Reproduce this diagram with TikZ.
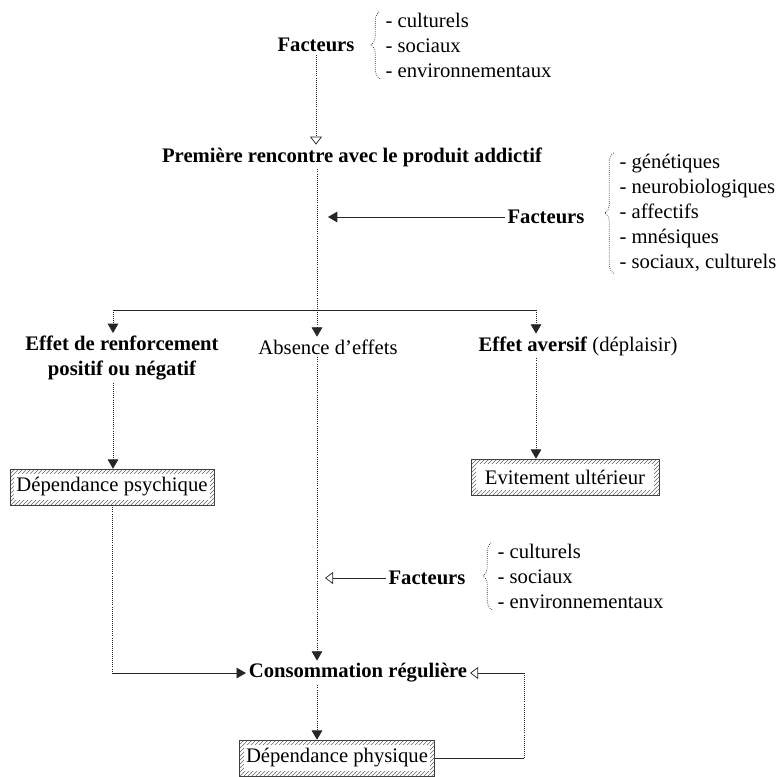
\documentclass[tikz,border=0pt]{standalone}
\usepackage{fontspec}
\setmainfont{Liberation Serif}
\usetikzlibrary{arrows.meta,patterns,decorations.pathreplacing}
\newcommand\diafont{\fontsize{15.5}{18.75}\selectfont}
\tikzset{
  head/.style={font=\diafont\bfseries, inner sep=2pt},
  txt/.style={font=\diafont, inner sep=2pt},
  lst/.style={font=\diafont, align=left, anchor=west, inner sep=1pt},
  vline/.style={densely dotted, draw=black!85, line width=0.55pt},
  hline/.style={draw=black!85, line width=0.55pt},
  tip/.style={-{Triangle[width=8pt,length=7pt]}},
  opentip/.style={-{Triangle[open,width=9pt,length=6pt]}},
  brc/.style={decorate, decoration={brace,amplitude=7pt}, densely dotted, draw=black!85, line width=0.55pt},
  hatchbox/.style={font=\diafont, draw=black!75, pattern=north east lines, pattern color=black!60,
    minimum height=27pt, inner xsep=5pt,
    path picture={\fill[white] ([shift={(3.5pt,3.5pt)}]path picture bounding box.south west)
      rectangle ([shift={(-3.5pt,-3.5pt)}]path picture bounding box.north east);}}
}
\begin{document}
\begin{tikzpicture}[x=0.75pt, y=-0.75pt]
\useasboundingbox (0,0) rectangle (784,776);

% first factors
\node[head] (fac1) at (316,45) {Facteurs};
\node[lst] (it1) at (384,45) {- culturels\\- sociaux\\- environnementaux};
\draw[brc] ([xshift=-3pt]it1.south west) -- ([xshift=-3pt]it1.north west);

% first encounter
\node[head] (prem) at (352,157) {Première rencontre avec le produit addictif};
\draw[vline, opentip] (fac1.south) -- (fac1.south |- prem.north);

% second factors
\node[head] (fac2) at (546,217) {Facteurs};
\node[lst] (it2) at (618,213) {- génétiques\\- neurobiologiques\\- affectifs\\- mnésiques\\- sociaux, culturels};
\draw[brc] ([xshift=-3pt]it2.south west) -- ([xshift=-3pt]it2.north west);
\coordinate (hit2) at (328,217);
\draw[hline, tip] (fac2.west) -- (hit2);

% split
\coordinate (split) at (317,310);
\coordinate (brL) at (113,310);
\coordinate (brR) at (536,310);
\draw[vline] (prem.south -| split) -- (split);
\draw[hline] (brL) -- (brR);

% three effects
\node[head, align=center] (eff1) at (122,358) {Effet de renforcement\\positif ou négatif};
\node[txt] (abs) at (328,347) {Absence d'effets};
\node[txt] (aver) at (578,346) {\textbf{Effet aversif} (déplaisir)};
\foreach \p/\n in {brL/eff1, split/abs, brR/aver}
  \draw[vline, tip] (\p) -- (\p |- \n.north);

% outcomes
\node[hatchbox] (psy) at (112,487) {Dépendance psychique};
\node[hatchbox, minimum width=141pt] (evi) at (565,477) {Evitement ultérieur};
\draw[vline, tip] (brL |- eff1.south) -- (brL |- psy.north);
\draw[vline, tip] (brR |- aver.south) -- (brR |- evi.north);

% regular use
\node[head] (cons) at (358,673) {Consommation régulière};
\draw[vline, tip] (split |- abs.south) -- (split |- cons.north);
\node[head] (fac3) at (427,578) {Facteurs};
\node[lst] (it3) at (496,576) {- culturels\\- sociaux\\- environnementaux};
\draw[brc] ([xshift=-3pt]it3.south west) -- ([xshift=-3pt]it3.north west);
\coordinate (hit3) at (325,578);
\draw[hline, opentip] (fac3.west) -- (hit3);
\draw[vline] (psy.south) -- (psy.south |- cons.west);
\draw[hline, tip] (psy.south |- cons.west) -- (cons.west);

% physical dependence
\node[hatchbox] (phy) at (337,758) {Dépendance physique};
\draw[vline, tip] (split |- cons.south) -- (split |- phy.north);
\coordinate (back) at (524,758);
\draw[hline] (phy.east) -- (back);
\draw[vline] (back) -- (back |- cons.east);
\draw[hline, opentip] (back |- cons.east) -- (cons.east);

\end{tikzpicture}
\end{document}
